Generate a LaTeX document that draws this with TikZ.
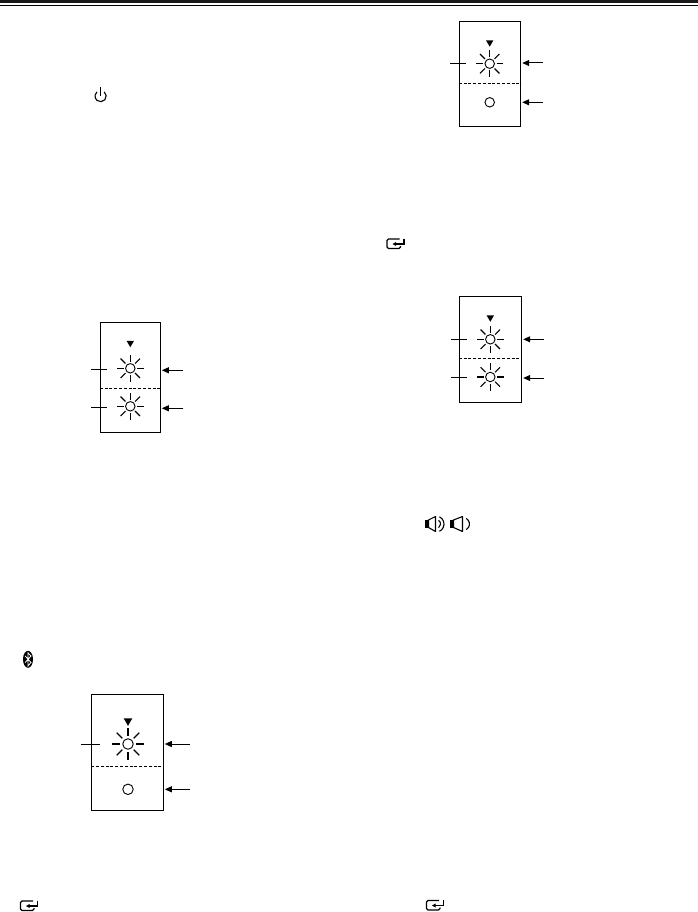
\documentclass[tikz,border=0pt]{standalone}
\usepackage{tikz}
\usetikzlibrary{arrows.meta,shapes.geometric}

\tikzset{
  panelbox/.style={draw,line width=1pt,rectangle,inner sep=0pt},
  ledring/.style={draw,line width=0.9pt,circle,inner sep=0pt,minimum size=9.5pt},
  ledbig/.style={ledring,minimum size=10.5pt},
  ledray/.style={line width=1.1pt},
  markertri/.style={fill=black,regular polygon,regular polygon sides=3,shape border rotate=180,inner sep=0pt,minimum size=8.5pt},
  dashline/.style={line width=0.9pt,dash pattern=on 3pt off 1.8pt},
  ledtick/.style={line width=0.9pt},
  ptrline/.style={line width=1pt,-{Triangle[length=7pt,width=6pt]},shorten >=1pt},
  iconline/.style={line width=1.1pt},
  enterkey/.pic={
    \draw[iconline,rounded corners=1.5pt] (13,0.5) -- (0.5,0.5) -- (0.5,10) -- (14,10) -- (14,7.5);
    \draw[iconline] (17.5,0) -- (17.5,5.5) -- (8,5.5);
    \fill (6,5.5) -- (9.5,3.5) -- (9.5,7.5) -- cycle;
  }
}

\begin{document}
\begin{tikzpicture}[x=1pt,y=-1pt]
\useasboundingbox (0,0) rectangle (698,912);

% header rules
\coordinate (barL) at (0,1.5);
\coordinate (barR) at (698,1.5);
\coordinate (ruleL) at (0,5.5);
\coordinate (ruleR) at (698,5.5);
\draw[line width=3pt,black!90] (barL) -- (barR);
\draw[line width=1pt] (ruleL) -- (ruleR);

% top right panel
\node[panelbox,minimum width=61.4pt,minimum height=105pt] (panA) at (490,73.8) {};
\node[markertri] (triA) at (489.7,42.5) {};
\node[ledring] (ledA) at (489.7,63.7) {};
\node[ledring] (ledAb) at (489.7,102.3) {};
\coordinate (dashA) at (0,83.3);
\coordinate (tickAs) at (450,63.7);
\coordinate (tickAe) at (465.7,63.7);
\coordinate (ptrA) at (542.7,63);
\coordinate (ptrAb) at (542.7,102.3);
\draw[dashline] (panA.west |- dashA) -- (panA.east |- dashA);
\draw[ledtick] (tickAs) -- (tickAe);
\draw[ptrline] (ptrA) -- (panA.east |- ptrA);
\draw[ptrline] (ptrAb) -- (panA.east |- ptrAb);

% right middle panel
\node[panelbox,minimum width=62.4pt,minimum height=106pt] (panB) at (490.5,349.3) {};
\node[markertri] (triB) at (490.3,317.5) {};
\node[ledring] (ledB) at (490.3,339.3) {};
\node[ledring] (ledBb) at (490.3,377) {};
\coordinate (dashB) at (0,358);
\coordinate (tickBs) at (451,339.3);
\coordinate (tickBe) at (467,339.3);
\coordinate (tickBbs) at (451,377);
\coordinate (tickBbe) at (467,377);
\coordinate (ptrB) at (544,339.3);
\coordinate (ptrBb) at (544,378);
\draw[dashline] (panB.west |- dashB) -- (panB.east |- dashB);
\draw[ledtick] (tickBs) -- (tickBe);
\draw[ledtick] (tickBbs) -- (tickBbe);
\draw[ptrline] (ptrB) -- (panB.east |- ptrB);
\draw[ptrline] (ptrBb) -- (panB.east |- ptrBb);

% left middle panel
\node[panelbox,minimum width=60pt,minimum height=110pt] (panC) at (130.3,377.3) {};
\node[markertri] (triC) at (130.3,343) {};
\node[ledring] (ledC) at (130.3,368.3) {};
\node[ledring] (ledCb) at (130.3,406.3) {};
\coordinate (dashC) at (0,388);
\coordinate (tickCs) at (91,369);
\coordinate (tickCe) at (107,369);
\coordinate (tickCbs) at (91,407);
\coordinate (tickCbe) at (107,407);
\coordinate (ptrC) at (183.3,370.3);
\coordinate (ptrCb) at (183.3,408.3);
\draw[dashline] (panC.west |- dashC) -- (panC.east |- dashC);
\draw[ledtick] (tickCs) -- (tickCe);
\draw[ledtick] (tickCbs) -- (tickCbe);
\draw[ptrline] (ptrC) -- (panC.east |- ptrC);
\draw[ptrline] (ptrCb) -- (panC.east |- ptrCb);

% bottom left panel
\node[panelbox,minimum width=71.6pt,minimum height=115.7pt] (panD) at (127.5,752.2) {};
\node[markertri,minimum size=10pt] (triD) at (128,720.8) {};
\node[ledbig] (ledD) at (128,744) {};
\node[ledbig] (ledDb) at (128,789.3) {};
\coordinate (dashD) at (0,766.3);
\coordinate (tickDs) at (81,744);
\coordinate (tickDe) at (100,744);
\coordinate (ptrD) at (190,744);
\coordinate (ptrDb) at (190,789.3);
\draw[dashline] (panD.west |- dashD) -- (panD.east |- dashD);
\draw[ledtick] (tickDs) -- (tickDe);
\draw[ptrline] (ptrD) -- (panD.east |- ptrD);
\draw[ptrline] (ptrDb) -- (panD.east |- ptrDb);

% glowing leds
\foreach \led in {ledA,ledB,ledBb,ledC,ledCb}
  \foreach \a in {0,45,...,315}
    \draw[ledray] ([shift={(\a:6.8)}]\led.center) -- ([shift={(\a:13.7)}]\led.center);
\foreach \a in {0,45,...,315}
  \draw[ledray,line width=1.2pt] ([shift={(\a:8)}]ledD.center) -- ([shift={(\a:16)}]ledD.center);

% power sign
\draw[iconline] (104.2,91.8) arc[start angle=-50,end angle=230,radius=5.6];
\draw[iconline] (100.6,87.5) -- (100.6,96);

% bluetooth sign
\node[fill=black,ellipse,inner sep=0pt,minimum width=10pt,minimum height=17pt] (btIcon) at (28,659.3) {};
\draw[white,line width=0.8pt] (25.2,656) -- (31,662.5) -- (28,666) -- (28,652.8) -- (31,656) -- (25.2,662.5);

% speaker signs
\fill (425,520) rectangle (428.5,527.5);
\draw[iconline,line join=round] (428.5,520) -- (435.5,516.5) -- (435.5,531.5) -- (428.5,527.5) -- cycle;
\draw[iconline] (439.4,516.8) arc[start angle=-65,end angle=65,radius=8];
\draw[iconline] (438.6,520.3) arc[start angle=-55,end angle=55,radius=4.5];
\fill (450,520) rectangle (453.5,527.5);
\draw[iconline,line join=round] (453.5,520) -- (462.5,516.5) -- (462.5,531.5) -- (453.5,527.5) -- cycle;
\draw[iconline] (466.2,518.4) arc[start angle=-60,end angle=60,radius=6.5];

% enter signs
\pic at (386.5,238.5) {enterkey};
\pic at (20,900.5) {enterkey};
\pic at (426,900) {enterkey};
\end{tikzpicture}
\end{document}
